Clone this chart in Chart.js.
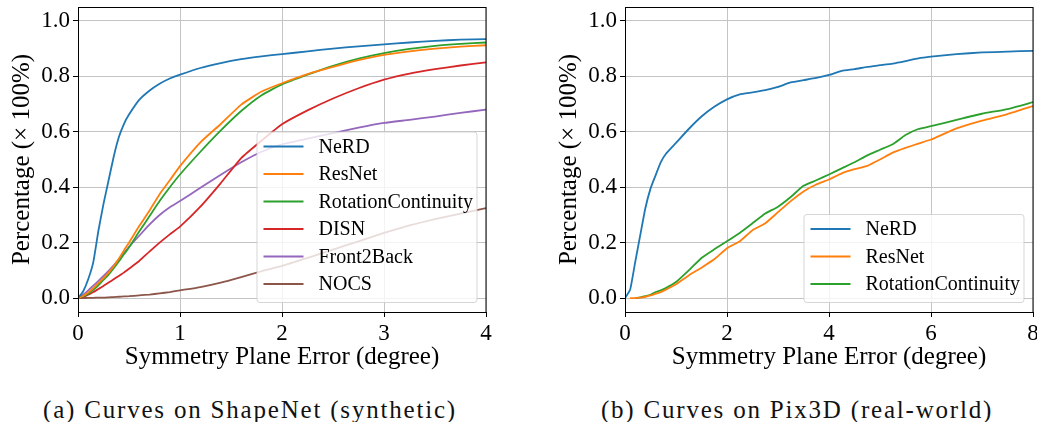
<!DOCTYPE html>
<html><head><meta charset="utf-8">
<script src="https://cdn.jsdelivr.net/npm/chart.js@4.4.1/dist/chart.umd.min.js"></script>
<style>
html,body{margin:0;padding:0;background:#fff}
body{width:1037px;height:422px;overflow:hidden;position:relative;font-family:"Liberation Serif",serif}
.c{position:absolute;top:0}
.cap{position:absolute;top:395px;font-size:25px;line-height:30px;letter-spacing:1.8px;color:#111;white-space:nowrap;transform:translateX(-50%)}
</style></head><body>
<div class="c" style="left:0"><canvas id="c1" width="500" height="372"></canvas></div>
<div class="c" style="left:547px"><canvas id="c2" width="490" height="372"></canvas></div>
<div class="cap" style="left:250px">(a) Curves on ShapeNet (synthetic)</div>
<div class="cap" style="left:797px">(b) Curves on Pix3D (real-world)</div>
<script>
// ---------- data: (a) ShapeNet ----------
const shapeX = [0,0.05,0.1,0.15,0.2,0.25,0.3,0.35,0.4,0.45,0.5,0.6,0.7,0.8,0.9,1.0,1.2,1.4,1.6,1.8,2.0,2.25,2.5,2.75,3.0,3.25,3.5,3.75,4.0];
const shapeNeRD   = [0,0.024,0.068,0.13,0.243,0.34,0.425,0.51,0.58,0.628,0.662,0.715,0.748,0.773,0.792,0.806,0.83,0.848,0.862,0.872,0.88,0.89,0.9,0.908,0.915,0.922,0.928,0.932,0.934];
const shapeResNet = [0,0.008,0.02,0.036,0.054,0.072,0.092,0.115,0.142,0.172,0.2,0.26,0.315,0.375,0.425,0.476,0.562,0.628,0.698,0.745,0.775,0.808,0.834,0.858,0.877,0.89,0.9,0.907,0.912];
const shapeRotCont= [0,0.006,0.016,0.03,0.046,0.066,0.085,0.108,0.132,0.158,0.183,0.24,0.295,0.35,0.4,0.446,0.528,0.605,0.675,0.732,0.771,0.806,0.838,0.864,0.884,0.899,0.91,0.917,0.922];
const shapeDISN   = [0,0.004,0.012,0.022,0.033,0.044,0.056,0.068,0.08,0.092,0.106,0.134,0.168,0.2,0.23,0.258,0.33,0.415,0.505,0.568,0.627,0.677,0.72,0.757,0.788,0.81,0.826,0.839,0.85];
const shapeF2B    = [0,0.012,0.028,0.045,0.062,0.08,0.098,0.118,0.14,0.162,0.185,0.225,0.265,0.3,0.328,0.35,0.398,0.445,0.49,0.528,0.555,0.575,0.595,0.615,0.632,0.643,0.655,0.668,0.68];
const shapeNOCS   = [0,0,0.001,0.001,0.002,0.002,0.003,0.004,0.005,0.006,0.007,0.01,0.013,0.017,0.022,0.028,0.04,0.056,0.076,0.097,0.116,0.145,0.175,0.205,0.235,0.262,0.285,0.305,0.325];
// ---------- data: (b) Pix3D ----------
const pixX = [0,0.1,0.2,0.3,0.4,0.5,0.6,0.7,0.8,1.0,1.25,1.5,1.75,2.0,2.25,2.5,2.75,3.0,3.25,3.5,3.75,4.0,4.25,4.5,4.75,5.0,5.25,5.5,5.75,6.0,6.5,7.0,7.5,8.0];
const pixNeRD    = [0,0.03,0.13,0.228,0.325,0.395,0.443,0.49,0.52,0.56,0.61,0.655,0.69,0.717,0.735,0.742,0.75,0.762,0.778,0.786,0.794,0.805,0.82,0.826,0.834,0.84,0.846,0.855,0.865,0.871,0.88,0.886,0.889,0.892];
const pixResNet  = [null,0,0,0.002,0.005,0.01,0.016,0.022,0.03,0.05,0.082,0.11,0.14,0.18,0.205,0.245,0.27,0.31,0.35,0.385,0.41,0.428,0.45,0.465,0.477,0.5,0.525,0.542,0.557,0.572,0.612,0.64,0.664,0.693];
const pixRotCont = [null,null,0,0.003,0.007,0.012,0.022,0.028,0.036,0.058,0.1,0.145,0.176,0.205,0.235,0.27,0.305,0.33,0.365,0.405,0.425,0.446,0.468,0.49,0.515,0.535,0.555,0.588,0.61,0.62,0.643,0.665,0.682,0.707];
const yTicks = [0,0.2,0.4,0.6,0.8,1.0];
const shapeXTicks = [0,1,2,3,4];
const pixXTicks = [0,2,4,6,8];
const colors = ['#1f77b4','#ff7f0e','#2ca02c','#d62728','#9467bd','#8c564b'];

const FONT = '"Liberation Serif", "Times New Roman", serif';
Chart.defaults.color = '#000';
Chart.defaults.font.family = FONT;

function series(xs, ys){ return xs.map((x,i)=>({x:x, y:ys[i]})); }
function ds(label, xs, ys, c){
  return {label, data: series(xs, ys), borderColor:c, backgroundColor:c, borderWidth:1.8,
          pointRadius:0, tension:0.15, fill:false, spanGaps:false};
}

const framePlugin = {
  id:'frame',
  afterDraw(chart){
    const {ctx, chartArea:a} = chart;
    ctx.save();
    ctx.strokeStyle = '#000'; ctx.lineWidth = 1;
    ctx.strokeRect(Math.round(a.left)+0.5, Math.round(a.top)+0.5, Math.round(a.right-a.left)-0.5, Math.round(a.bottom-a.top));
    ctx.restore();
  }
};
const legendPlugin = {
  id:'boxLegend',
  afterDatasetsDraw(chart){
    const {ctx, chartArea:a} = chart;
    const sets = chart.data.datasets;
    const w = 220, rowH = 27.5;
    const h = 15 + rowH*(sets.length-1) + 18;
    const L = a.right - 9.5 - w, T = a.bottom - 10 - h;
    ctx.save();
    ctx.beginPath();
    ctx.roundRect(L+0.5, T+0.5, w, h, 3);
    ctx.fillStyle = 'rgba(255,255,255,0.8)';
    ctx.fill();
    ctx.strokeStyle = 'rgba(204,204,204,0.8)';
    ctx.lineWidth = 1;
    ctx.stroke();
    ctx.font = '20px ' + FONT;
    ctx.textBaseline = 'middle';
    ctx.textAlign = 'left';
    sets.forEach((d,i)=>{
      const y = T + 15 + i*rowH;
      ctx.strokeStyle = d.borderColor; ctx.lineWidth = 1.8;
      ctx.beginPath(); ctx.moveTo(L+7, y); ctx.lineTo(L+47, y); ctx.stroke();
      ctx.fillStyle = '#000';
      ctx.fillText(d.label, L+62, y+1);
    });
    ctx.restore();
  }
};

function makeChart(id, sets, xmax, xTicks, rightPad){
  return new Chart(document.getElementById(id), {
    type:'line',
    data:{datasets:sets},
    plugins:[legendPlugin, framePlugin],
    options:{
      responsive:false, animation:false,
      layout:{padding:{left:0,right:rightPad,top:7,bottom:0}},
      plugins:{legend:{display:false}, tooltip:{enabled:false}},
      scales:{
        x:{type:'linear', min:0, max:xmax,
           afterBuildTicks:s=>{ s.ticks = xTicks.map(v=>({value:v})); },
           afterFit:s=>{ s.height = 60; s.paddingLeft=0; s.paddingRight=0; },
           ticks:{font:{size:23, family:FONT}, color:'#000', padding:3, maxRotation:0, callback:v=>String(v)},
           grid:{color:'#c4c4c4', lineWidth:1, tickLength:5, tickColor:'#000', tickWidth:1},
           border:{color:'#000', width:1},
           title:{display:true, text:'Symmetry Plane Error (degree)', font:{size:25, family:FONT}, color:'#000', padding:{top:0,bottom:0}}
        },
        y:{type:'linear', min:-0.05, max:1.05,
           afterBuildTicks:s=>{ s.ticks = yTicks.map(v=>({value:v})); },
           afterFit:s=>{ s.width = 78; s.paddingTop=0; s.paddingBottom=0; },
           ticks:{font:{size:23, family:FONT}, color:'#000', padding:3, callback:v=>Number(v).toFixed(1)},
           grid:{color:'#c4c4c4', lineWidth:1, tickLength:5, tickColor:'#000', tickWidth:1},
           border:{color:'#000', width:1},
           title:{display:true, text:'Percentage (× 100%)', font:{size:25, family:FONT}, color:'#000', padding:{top:7,bottom:0}}
        }
      }
    }
  });
}

makeChart('c1', [
  ds('NeRD', shapeX, shapeNeRD, colors[0]),
  ds('ResNet', shapeX, shapeResNet, colors[1]),
  ds('RotationContinuity', shapeX, shapeRotCont, colors[2]),
  ds('DISN', shapeX, shapeDISN, colors[3]),
  ds('Front2Back', shapeX, shapeF2B, colors[4]),
  ds('NOCS', shapeX, shapeNOCS, colors[5])
], 4, shapeXTicks, 14);

makeChart('c2', [
  ds('NeRD', pixX, pixNeRD, colors[0]),
  ds('ResNet', pixX, pixResNet, colors[1]),
  ds('RotationContinuity', pixX, pixRotCont, colors[2])
], 8, pixXTicks, 4);
</script>
</body></html>
